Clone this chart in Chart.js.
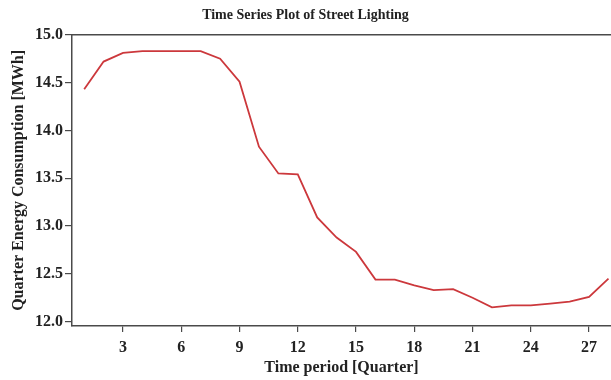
<!DOCTYPE html>
<html>
<head>
<meta charset="utf-8">
<script src="https://cdn.jsdelivr.net/npm/chart.js@4/dist/chart.umd.min.js"></script>
<style>
  html, body { margin: 0; padding: 0; background: #fff; }
  #wrap { width: 611px; height: 380px; position: relative; }
</style>
</head>
<body>
<div id="wrap"><canvas id="chart"></canvas></div>
<script>
  'use strict';

  var periods = [1, 2, 3, 4, 5, 6, 7, 8, 9, 10, 11, 12, 13, 14,
    15, 16, 17, 18, 19, 20, 21, 22, 23, 24, 25, 26, 27, 28];
  var consumption = [14.43, 14.72, 14.81, 14.83, 14.83, 14.83, 14.83, 14.75, 14.51, 13.83,
    13.55, 13.54, 13.09, 12.88, 12.73, 12.44, 12.44, 12.38, 12.33, 12.34,
    12.25, 12.15, 12.17, 12.17, 12.19, 12.21, 12.26, 12.45];
  var xTicks = [3, 6, 9, 12, 15, 18, 21, 24, 27];
  var yTicks = [12.0, 12.5, 13.0, 13.5, 14.0, 14.5, 15.0];

  var SERIF = "'Liberation Serif', 'Times New Roman', serif";
  var INK = '#222222';
  var AXIS = '#4a4a4a';

  // frame line along the top of the plot area
  var topBorder = {
    id: 'topBorder',
    afterDraw: function(chart) {
      var a = chart.chartArea;
      var ctx = chart.ctx;
      ctx.save();
      ctx.strokeStyle = AXIS;
      ctx.lineWidth = 1.5;
      ctx.beginPath();
      ctx.moveTo(a.left, a.top);
      ctx.lineTo(a.right, a.top);
      ctx.stroke();
      ctx.restore();
    }
  };

  new Chart(document.getElementById('chart'), {
    type: 'line',
    data: {
      datasets: [{
        data: periods.map(function(p, i) { return { x: p, y: consumption[i] }; }),
        borderColor: '#cc383c',
        borderWidth: 1.8,
        pointRadius: 0,
        fill: false,
        tension: 0
      }]
    },
    options: {
      responsive: true,
      maintainAspectRatio: false,
      animation: false,
      layout: { padding: 0 },
      plugins: {
        legend: { display: false },
        tooltip: { enabled: false },
        title: {
          display: true,
          text: 'Time Series Plot of Street Lighting',
          color: INK,
          font: { family: SERIF, size: 14, weight: 'bold' },
          padding: { top: 7, bottom: 11 }
        }
      },
      scales: {
        x: {
          type: 'linear',
          min: 0.372,
          max: 28.13,
          afterBuildTicks: function(scale) {
            scale.ticks = xTicks.map(function(v) { return { value: v }; });
          },
          afterFit: function(scale) { scale.height = 54; },
          grid: { drawOnChartArea: false, drawTicks: true, tickLength: 6, color: AXIS, lineWidth: 1.2 },
          border: { display: true, color: AXIS, width: 1.5 },
          ticks: {
            color: INK,
            padding: 6,
            maxRotation: 0,
            font: { family: SERIF, size: 16, weight: 'bold' }
          },
          title: {
            display: true,
            text: 'Time period [Quarter]',
            color: INK,
            font: { family: SERIF, size: 16, weight: 'bold' },
            padding: { top: 0, bottom: 3 }
          }
        },
        y: {
          min: 11.955,
          max: 15.0,
          afterBuildTicks: function(scale) {
            scale.ticks = yTicks.map(function(v) { return { value: v }; });
          },
          afterFit: function(scale) { scale.width = 72; },
          grid: { drawOnChartArea: false, drawTicks: true, tickLength: 7, color: AXIS, lineWidth: 1.2 },
          border: { display: true, color: AXIS, width: 1.5 },
          ticks: {
            color: INK,
            padding: 2,
            font: { family: SERIF, size: 16, weight: 'bold' },
            callback: function(v) { return Number(v).toFixed(1); }
          },
          title: {
            display: true,
            text: 'Quarter Energy Consumption [MWh]',
            color: INK,
            font: { family: SERIF, size: 16, weight: 'bold' },
            padding: { top: 9, bottom: 0 }
          }
        }
      }
    },
    plugins: [topBorder]
  });
</script>
</body>
</html>
